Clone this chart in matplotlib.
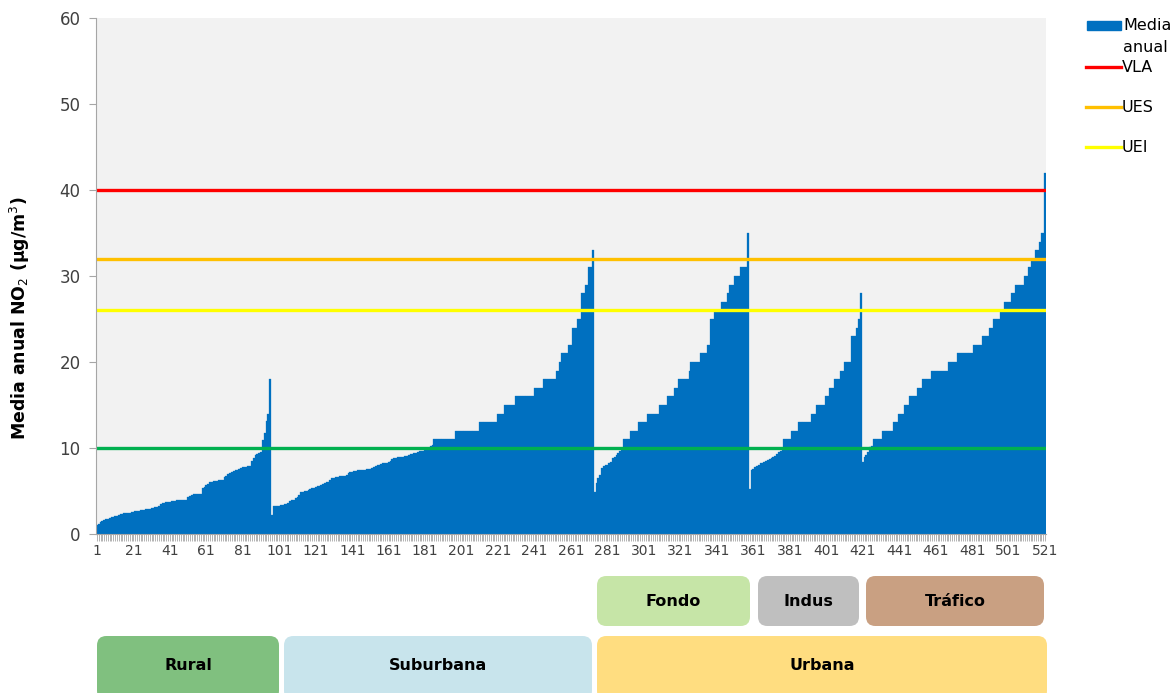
import matplotlib
matplotlib.use("Agg")
import matplotlib.pyplot as plt
from matplotlib.patches import FancyBboxPatch, Rectangle
from matplotlib.lines import Line2D
import numpy as np

# ---------------- data (run-length: value, count) ----------------
rural_vals = [1.1, 1.2, 1.4, 1.5, 1.6, 1.7, 1.8, 1.9, 2.0, 2.0, 2.1, 2.1,
              2.2, 2.3, 2.3, 2.4, 2.4, 2.5, 2.5, 2.6, 2.6, 2.7, 2.7, 2.7,
              2.8, 2.8, 2.8, 2.9, 2.9, 2.9, 3.0, 3.0, 3.1, 3.1, 3.2,
              3.5, 3.6, 3.6, 3.7, 3.7, 3.7, 3.8, 3.8, 3.8, 3.9, 3.9,
              3.9, 4.0, 4.0, 4.0, 4.3, 4.4, 4.5, 4.6, 4.6, 4.6, 4.7, 4.7,
              5.3, 5.5, 5.7, 5.8, 6.0, 6.1, 6.2, 6.2, 6.2, 6.3, 6.3, 6.3,
              6.6, 6.8, 7.0, 7.1, 7.2, 7.3, 7.4, 7.5, 7.6, 7.7,
              7.8, 7.8, 7.8, 7.9, 7.9, 8.5, 8.8, 9.2, 9.3, 9.4, 9.5,
              10.9, 11.7, 13.1, 14.0, 18.0]

suburbana_vals = [2.2,
                  3.2, 3.3, 3.3, 3.3, 3.4, 3.4, 3.5, 3.5, 3.6,
                  3.8, 3.9, 4.0, 4.2, 4.3, 4.5,
                  4.9, 4.9, 5.0, 5.0, 5.1, 5.2,
                  5.4, 5.4, 5.5, 5.6, 5.6, 5.7, 5.8,
                  5.9, 6.0, 6.1, 6.3,
                  6.5, 6.5, 6.6, 6.6, 6.7, 6.7, 6.7, 6.8, 6.9,
                  7.1, 7.2, 7.2, 7.3, 7.3, 7.4, 7.4, 7.5,
                  7.5, 7.5, 7.6, 7.6, 7.6, 7.7, 7.8, 7.9,
                  8.0, 8.0, 8.1, 8.2, 8.3, 8.3, 8.4, 8.5,
                  8.7, 8.8, 8.8, 8.9, 8.9, 9.0, 9.0, 9.1, 9.1, 9.2,
                  9.3, 9.3, 9.4, 9.4, 9.5, 9.6, 9.7, 9.7,
                  9.8, 9.9, 10.0, 10.2, 10.4]
suburbana_steps = [11, 12, 13, 14, 15, 16, 17, 18, 19, 20, 21, 22, 24, 25, 28, 29, 31, 33]
suburbana_counts = [12, 13, 10, 4, 6, 10, 5, 7, 2, 1, 4, 2, 3, 2, 2, 2, 2, 1]

fondo_vals = [4.9, 5.9, 6.5, 6.9, 7.7, 7.9, 8.0, 8.0, 8.2, 8.4,
              8.8, 9.0, 9.2, 9.4, 9.6, 9.9]
fondo_steps = [11, 12, 13, 14, 15, 16, 17, 18, 19, 20, 21, 22, 25, 26, 27, 28, 29, 30, 31, 35]
fondo_counts = [4, 4, 5, 7, 4, 4, 2, 6, 1, 5, 4, 2, 2, 4, 3, 1, 3, 3, 4, 1]

indus_vals = [5.2, 7.4, 7.6, 7.8, 7.9, 8.0, 8.2, 8.3,
              8.4, 8.5, 8.6, 8.7, 8.8, 9.0, 9.1, 9.3, 9.5, 9.7, 9.8]
indus_steps = [11, 12, 13, 14, 15, 16, 17, 18, 19, 20, 23, 24, 25, 28]
indus_counts = [4, 4, 7, 3, 5, 2, 3, 3, 2, 4, 3, 1, 1, 1]

trafico_vals = [8.4, 8.9, 9.2, 9.5, 10.1, 10.2]
trafico_steps = [11, 12, 13, 14, 15, 16, 17, 18, 19, 20, 21, 22, 23, 24, 25,
                 26, 27, 28, 29, 30, 31, 32, 33, 34, 35, 42]
trafico_counts = [5, 6, 3, 3, 3, 4, 3, 5, 9, 5, 9, 5, 4, 2, 4,
                  2, 4, 2, 5, 2, 2, 2, 2, 1, 2, 1]

limit_values = {"VLA": 40, "UES": 32, "UEI": 26, "ref": 10}
y_ticks = [0, 10, 20, 30, 40, 50, 60]
x_tick_labels = list(range(1, 522, 20))

values = (rural_vals
          + suburbana_vals + list(np.repeat(suburbana_steps, suburbana_counts))
          + fondo_vals + list(np.repeat(fondo_steps, fondo_counts))
          + indus_vals + list(np.repeat(indus_steps, indus_counts))
          + trafico_vals + list(np.repeat(trafico_steps, trafico_counts)))
values = np.array(values, dtype=float)
x = np.arange(1, len(values) + 1)

# ---------------- figure ----------------
W, H = 1173, 693
fig = plt.figure(figsize=(W / 100, H / 100), dpi=100)
L, R, T, B = 96, 1046, 18, 534
ax = fig.add_axes([L / W, 1 - B / H, (R - L) / W, (B - T) / H])
ax.set_facecolor("#F2F2F2")

ax.bar(x, values, width=1.0, color="#0070C0", edgecolor="#0070C0", linewidth=0.2)

ax.axhline(limit_values["VLA"], color="#FF0000", lw=2.4)
ax.axhline(limit_values["UES"], color="#FFC000", lw=2.4)
ax.axhline(limit_values["UEI"], color="#FFFF00", lw=2.4)
ax.axhline(limit_values["ref"], color="#00B050", lw=2.4)

ax.set_xlim(0.5, len(values) + 0.5)
ax.set_ylim(0, 60)
ax.set_yticks(y_ticks)
ax.set_yticklabels([str(v) for v in y_ticks], fontsize=12, color="#404040")
ax.set_xticks(x_tick_labels)
ax.set_xticklabels([str(v) for v in x_tick_labels], fontsize=10, color="#404040")
ax.set_xticks(x, minor=True)
ax.tick_params(axis="x", which="both", length=5, color="#A6A6A6", width=0.6, pad=2)
ax.tick_params(axis="y", length=5, color="#A6A6A6", width=0.8, pad=6)
for s in ["top", "right"]:
    ax.spines[s].set_visible(False)
for s in ["left", "bottom"]:
    ax.spines[s].set_color("#A6A6A6")
    ax.spines[s].set_linewidth(0.8)

fig.text(20 / W, 1 - 318 / H, r"Media anual NO$_2$ ($\mathregular{\mu}$g/m$^3$)",
         rotation=90, ha="center", va="center", fontsize=12.5, fontweight="bold")

# ---------------- legend (manual) ----------------
def fx(px):
    return px / W

def fy(py):
    return 1 - py / H

fig.add_artist(Rectangle((fx(1087), fy(30)), (1121 - 1087) / W, 9 / H,
                         transform=fig.transFigure, color="#0070C0"))
fig.text(fx(1123), fy(25), "Media", fontsize=11.5, va="center", ha="left")
fig.text(fx(1123), fy(47), "anual", fontsize=11.5, va="center", ha="left")
leg_items = [("VLA", "#FF0000", 67), ("UES", "#FFC000", 107), ("UEI", "#FFFF00", 147)]
for name, col, py in leg_items:
    fig.add_artist(Line2D([fx(1086), fx(1121)], [fy(py), fy(py)],
                          transform=fig.transFigure, color=col, lw=2.4))
    fig.text(fx(1122), fy(py), name, fontsize=11.5, va="center", ha="left")

# ---------------- category boxes ----------------
boxes = [
    ("Fondo", 597, 750, 576, 626, "#C6E5A7"),
    ("Indus", 758, 859, 576, 626, "#BFBFBF"),
    ("Tráfico", 866, 1044, 576, 626, "#C9A082"),
    ("Rural", 97, 279, 636, 700, "#80C07F"),
    ("Suburbana", 284, 592, 636, 700, "#C8E4EC"),
    ("Urbana", 597, 1047, 636, 700, "#FFDD80"),
]
for name, x0, x1, y0, y1, col in boxes:
    p = FancyBboxPatch((fx(x0), fy(y1)), (x1 - x0) / W, (y1 - y0) / H,
                       boxstyle="round,pad=0,rounding_size=0.008",
                       transform=fig.transFigure, facecolor=col, edgecolor="none",
                       mutation_aspect=W / H)
    fig.add_artist(p)
    ty = (y0 + min(y1, 700)) / 2 if y1 < 690 else 665
    fig.text(fx((x0 + x1) / 2), fy(ty), name, fontsize=11.5, fontweight="bold",
             ha="center", va="center")

fig.savefig("out.png", dpi=100)
